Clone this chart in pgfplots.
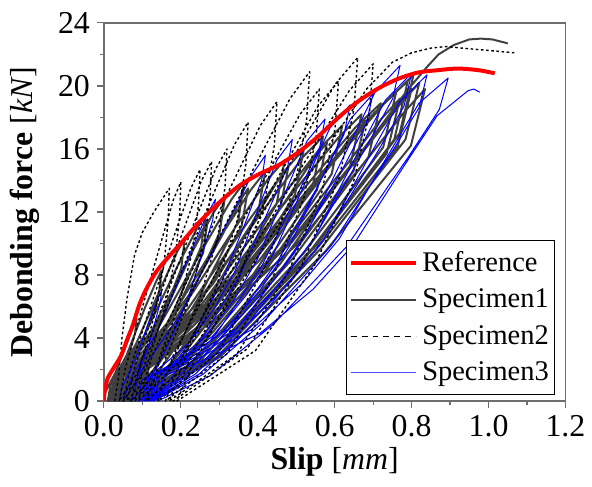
\documentclass[border=0pt]{standalone}
\usepackage{fontspec}
\setmainfont{Liberation Serif}
\usepackage{pgfplots}
\pgfplotsset{compat=1.18}
\definecolor{spgray}{RGB}{64,64,64}
\definecolor{axgray}{RGB}{110,110,110}
\begin{document}
\begin{tikzpicture}
\begin{axis}[name=ax, scale only axis, width=231.9pt, height=190pt,
  xmin=0, xmax=1.2, ymin=0, ymax=24,
  xtick={0,0.2,0.4,0.6,0.8,1.0,1.2}, ytick={0,4,8,12,16,20,24},
  minor x tick num=1, minor y tick num=1,
  tick align=outside, xtick pos=left, ytick pos=left,
  major tick length=3.5pt, minor tick length=2pt,
  axis line style={axgray, line width=0.7pt},
  every tick/.style={axgray, line width=0.6pt},
  tick label style={font=\fontsize{16}{18}\selectfont},
  /pgf/number format/assume math mode=true,
  xticklabel style={/pgf/number format/fixed, /pgf/number format/fixed zerofill, /pgf/number format/precision=1},
  yticklabel style={/pgf/number format/fixed, /pgf/number format/precision=0},
  label style={font=\fontsize{16}{18}\selectfont},
  xlabel={\textbf{Slip} [\textit{mm}]},
  ylabel={\textbf{Debonding force} [\textit{kN}]},
  xlabel style={at={(axis description cs:0.5,-0.182)}, anchor=base},
  ylabel style={at={(axis description cs:-0.172,0.5)}, anchor=center},
  legend style={at={(0.978,0.016)}, anchor=south east, draw=black, line width=0.6pt,
    font=\fontsize{14.3}{16}\selectfont, inner xsep=1pt, inner ysep=3.5pt, row sep=3.3pt},
  legend cell align=left,
  legend image code/.code={\draw[#1] (0pt,0pt) -- (33pt,0pt);},
  clip=true
]
\addlegendimage{red, line width=2pt}\addlegendentry{Reference}
\addlegendimage{spgray, line width=0.9pt}\addlegendentry{Specimen1}
\addlegendimage{black, line width=0.6pt, dash pattern=on 3pt off 2.5pt}\addlegendentry{Specimen2}
\addlegendimage{blue!70, line width=0.6pt}\addlegendentry{Specimen3}

% Specimen1
\addplot[spgray, line width=1pt, line join=round, forget plot] coordinates {
(0,0)(0.004,0.6)(0.030,1.8)(0.060,3.7)(0.077,4.8)(0.085,5.2)(0.081,4.3)(0.059,2.5)(0.031,0.7)(0.010,0)
(0.017,1.0)(0.059,2.9)(0.108,6.0)(0.136,7.6)(0.150,8.3)(0.143,6.8)(0.103,4.0)(0.053,1.2)(0.015,0)
(0.025,1.2)(0.083,3.6)(0.152,7.4)(0.191,9.5)(0.210,10.3)(0.201,8.4)(0.144,4.9)(0.073,1.4)(0.020,0)
(0.032,1.4)(0.106,4.2)(0.192,8.6)(0.241,10.9)(0.265,11.9)(0.253,9.8)(0.181,5.7)(0.092,1.7)(0.025,0)
(0.032,1.15)(0.086,2.9)(0.160,5.75)(0.221,9.0)(0.253,10.7)(0.270,11.5)(0.258,9.4)(0.184,5.5)(0.094,1.6)(0.025,0)
(0.040,1.6)(0.127,4.6)(0.228,9.4)(0.286,12.0)(0.315,13.0)(0.301,10.7)(0.215,6.2)(0.110,1.8)(0.030,0)
(0.047,1.7)(0.147,4.9)(0.265,10.0)(0.332,12.8)(0.365,13.9)(0.349,11.4)(0.250,6.7)(0.127,1.9)(0.035,0)
(0.045,1.35)(0.120,3.4)(0.222,6.75)(0.307,10.5)(0.351,12.6)(0.375,13.5)(0.358,11.1)(0.256,6.5)(0.130,1.9)(0.035,0)
(0.054,1.8)(0.170,5.1)(0.305,10.5)(0.382,13.4)(0.420,14.6)(0.401,12.0)(0.287,7.0)(0.146,2.0)(0.040,0)
(0.062,1.8)(0.191,5.4)(0.341,11.0)(0.427,14.1)(0.470,15.3)(0.449,12.5)(0.321,7.3)(0.164,2.1)(0.045,0)
(0.058,1.5)(0.154,3.7)(0.284,7.45)(0.393,11.6)(0.450,13.9)(0.480,14.9)(0.458,12.2)(0.328,7.2)(0.167,2.1)(0.045,0)
(0.069,1.9)(0.211,5.6)(0.378,11.5)(0.473,14.7)(0.520,16.0)(0.497,13.1)(0.356,7.7)(0.182,2.2)(0.050,0)
(0.076,2.0)(0.232,5.9)(0.414,12.1)(0.518,15.5)(0.570,16.8)(0.544,13.8)(0.390,8.1)(0.199,2.4)(0.055,0)
(0.071,1.6)(0.186,4.1)(0.344,8.2)(0.475,12.8)(0.543,15.3)(0.580,16.4)(0.554,13.4)(0.396,7.9)(0.202,2.3)(0.055,0)
(0.083,2.1)(0.253,6.1)(0.451,12.6)(0.564,16.1)(0.620,17.5)(0.592,14.4)(0.424,8.4)(0.217,2.5)(0.060,0)
(0.091,2.2)(0.274,6.4)(0.487,13.1)(0.609,16.7)(0.670,18.2)(0.640,14.9)(0.458,8.7)(0.234,2.5)(0.065,0)
(0.083,1.8)(0.219,4.45)(0.403,8.9)(0.557,13.9)(0.637,16.6)(0.680,17.8)(0.649,14.6)(0.465,8.5)(0.237,2.5)(0.065,0)
(0.098,2.3)(0.294,6.6)(0.524,13.6)(0.655,17.4)(0.720,18.9)(0.688,15.5)(0.493,9.1)(0.252,2.6)(0.070,0)
(0.105,2.4)(0.312,6.9)(0.553,14.1)(0.691,18.0)(0.760,19.6)(0.726,16.1)(0.520,9.4)(0.267,2.7)(0.075,0)
(0.096,1.9)(0.249,4.8)(0.457,9.6)(0.631,15.0)(0.721,17.9)(0.770,19.2)(0.735,15.7)(0.527,9.2)(0.270,2.7)(0.075,0)
(0.111,2.4)(0.325,7.1)(0.576,14.6)(0.719,18.7)(0.790,20.3)(0.755,16.6)(0.542,9.7)(0.279,2.8)(0.080,0)
(0.102,2.0)(0.260,5.0)(0.476,9.9)(0.656,15.4)(0.750,18.4)(0.800,19.8)(0.764,16.2)(0.548,9.5)(0.282,2.8)(0.080,0)
(0.116,2.5)(0.334,7.2)(0.588,14.9)(0.733,19.0)(0.805,20.7)(0.769,17.0)(0.553,9.9)(0.287,2.9)(0.085,0)
(0.107,2.0)(0.269,5.05)(0.489,10.1)(0.673,15.8)(0.769,18.8)(0.820,20.2)(0.784,16.6)(0.565,9.7)(0.294,2.8)(0.090,0)
(0.112,2.0)(0.276,4.95)(0.500,9.9)(0.686,15.4)(0.783,18.4)(0.835,19.8)(0.798,16.2)(0.576,9.5)(0.302,2.8)(0.095,0)
(0.117,2.1)(0.281,5.3)(0.505,10.6)(0.691,16.5)(0.788,19.7)(0.840,21.2)(0.870,22.0)(0.910,22.6)(0.950,22.95)(0.980,23.0)(1.010,22.95)(1.050,22.7)
};

% Specimen3
\addplot[blue, line width=0.5pt, line join=round, forget plot] coordinates {
(0.040,0)(0.046,0.8)(0.079,2.5)(0.117,5.0)(0.139,6.4)(0.150,7.0)(0.147,6.3)(0.136,5.3)(0.115,3.4)(0.090,1.7)(0.068,0.6)(0.050,0)
(0.072,1.5)(0.141,4.5)(0.221,9.2)(0.267,11.8)(0.290,12.8)(0.283,11.5)(0.259,9.6)(0.213,6.1)(0.158,3.1)(0.110,1.0)(0.070,0)
(0.097,1.9)(0.199,5.5)(0.318,11.2)(0.386,14.4)(0.420,15.6)(0.410,14.0)(0.374,11.7)(0.305,7.5)(0.222,3.7)(0.149,1.2)(0.090,0)
(0.098,1.3)(0.150,2.2)(0.222,3.7)(0.290,6.0)(0.342,8.3)(0.398,12.0)(0.450,15.3)(0.490,16.6)(0.478,14.9)(0.435,12.5)(0.354,8.0)(0.256,4.0)(0.170,1.3)(0.100,0)
(0.110,1.4)(0.171,2.3)(0.257,3.9)(0.338,6.4)(0.399,9.0)(0.466,12.9)(0.528,16.5)(0.575,17.9)(0.561,16.1)(0.509,13.4)(0.411,8.6)(0.293,4.3)(0.190,1.4)(0.105,0)
(0.116,1.5)(0.185,2.4)(0.282,4.1)(0.373,6.8)(0.442,9.4)(0.517,13.5)(0.587,17.3)(0.640,18.8)(0.624,16.9)(0.566,14.1)(0.455,9.0)(0.322,4.5)(0.205,1.5)(0.110,0)
(0.122,1.6)(0.199,2.5)(0.305,4.3)(0.405,7.0)(0.482,9.8)(0.564,14.0)(0.641,17.9)(0.700,19.5)(0.682,17.6)(0.618,14.6)(0.495,9.4)(0.349,4.7)(0.220,1.6)(0.115,0)
(0.128,1.7)(0.213,2.8)(0.331,4.7)(0.443,7.7)(0.528,10.7)(0.619,15.3)(0.705,19.6)(0.770,21.3)(0.751,19.2)(0.679,16.0)(0.543,10.2)(0.380,5.1)(0.237,1.7)(0.120,0)
(0.134,1.7)(0.222,2.7)(0.344,4.6)(0.460,7.5)(0.548,10.4)(0.644,15.0)(0.732,19.1)(0.800,20.8)(0.780,18.7)(0.706,15.6)(0.564,10.0)(0.395,5.0)(0.247,1.7)(0.125,0)
(0.139,1.7)(0.232,2.7)(0.361,4.6)(0.483,7.5)(0.575,10.4)(0.676,14.9)(0.769,19.0)(0.840,20.7)(0.819,18.6)(0.741,15.5)(0.592,9.9)(0.414,5.0)(0.258,1.7)(0.130,0)
(0.145,1.6)(0.245,2.7)(0.382,4.5)(0.513,7.4)(0.612,10.3)(0.719,14.8)(0.819,18.9)(0.895,20.5)(0.872,18.5)(0.789,15.4)(0.631,9.8)(0.442,4.9)(0.276,1.6)(0.140,0)
(0.156,1.6)(0.261,2.6)(0.406,4.3)(0.544,7.1)(0.648,9.9)(0.761,14.2)(0.866,18.1)(0.947,19.7)(0.962,19.8)(0.977,19.6)
};

% Specimen2
\addplot[black, line width=0.7pt, dash pattern=on 1.3pt off 1.3pt, line join=round, forget plot] coordinates {
(0.028,0)(0.038,1.5)(0.047,4.0)(0.060,6.5)(0.080,9.3)(0.100,10.7)(0.130,12.0)(0.170,13.5)(0.167,11.5)(0.157,8.8)(0.131,5.4)(0.092,2.0)(0.040,0)
(0.056,2.1)(0.096,5.6)(0.144,9.7)(0.181,12.8)(0.200,13.9)(0.197,11.8)(0.185,9.0)(0.155,5.6)(0.110,2.1)(0.050,0)
(0.070,2.2)(0.120,5.9)(0.180,10.3)(0.226,13.5)(0.250,14.7)(0.246,12.5)(0.231,9.6)(0.193,5.9)(0.136,2.2)(0.060,0)
(0.082,2.3)(0.137,6.1)(0.203,10.6)(0.254,14.0)(0.280,15.2)(0.276,12.9)(0.259,9.9)(0.217,6.1)(0.154,2.3)(0.070,0)
(0.095,2.4)(0.158,6.4)(0.233,11.2)(0.290,14.7)(0.320,16.0)(0.315,13.6)(0.296,10.4)(0.248,6.4)(0.176,2.4)(0.080,0)
(0.110,2.7)(0.183,7.1)(0.272,12.4)(0.340,16.3)(0.375,17.7)(0.369,15.0)(0.347,11.5)(0.290,7.1)(0.204,2.7)(0.090,0)
(0.126,2.9)(0.216,7.6)(0.324,13.3)(0.407,17.5)(0.450,19.0)(0.443,16.2)(0.416,12.4)(0.348,7.6)(0.246,2.9)(0.110,0)
(0.153,3.1)(0.259,8.4)(0.386,14.6)(0.484,19.2)(0.535,20.9)(0.527,17.8)(0.496,13.6)(0.417,8.4)(0.298,3.1)(0.140,0)
(0.182,3.0)(0.287,7.9)(0.413,13.9)(0.510,18.2)(0.560,19.8)(0.552,16.8)(0.520,12.9)(0.440,7.9)(0.320,3.0)(0.160,0)
(0.205,3.0)(0.318,8.1)(0.453,14.2)(0.556,18.7)(0.610,20.3)(0.601,17.3)(0.566,13.2)(0.478,8.1)(0.346,3.0)(0.170,0)
(0.219,3.3)(0.342,8.7)(0.489,15.3)(0.601,20.1)(0.660,21.8)(0.650,18.5)(0.612,14.2)(0.516,8.7)(0.372,3.3)(0.180,0)
(0.232,3.2)(0.362,8.6)(0.518,15.0)(0.638,19.7)(0.700,21.4)(0.690,18.2)(0.649,13.9)(0.547,8.6)(0.394,3.2)(0.190,0)
(0.246,3.2)(0.386,8.6)(0.554,15.1)(0.683,19.8)(0.750,21.5)(0.800,22.1)(0.850,22.4)(0.890,22.5)(0.930,22.4)(1.000,22.25)(1.068,22.1)
};

% Reference
\addplot[red, line width=2pt, smooth, forget plot] coordinates {
(0,0)(0.002,0.6)(0.010,1.45)(0.028,2.2)(0.045,2.9)(0.062,4.0)(0.075,4.8)(0.092,6.1)(0.110,7.1)(0.136,8.2)(0.170,9.2)(0.200,10.0)(0.248,11.35)(0.300,12.6)(0.351,13.65)(0.403,14.4)(0.456,15.0)(0.506,15.8)(0.555,16.75)(0.610,18.0)(0.660,19.0)(0.714,19.85)(0.765,20.45)(0.817,20.85)(0.869,21.0)(0.920,21.1)(0.973,21.0)(1.016,20.8)
};
\end{axis}
\path ([shift={(-52.2pt,-43pt)}]ax.south west) rectangle ([shift={(12pt,11.5pt)}]ax.north east);
\end{tikzpicture}
\end{document}
